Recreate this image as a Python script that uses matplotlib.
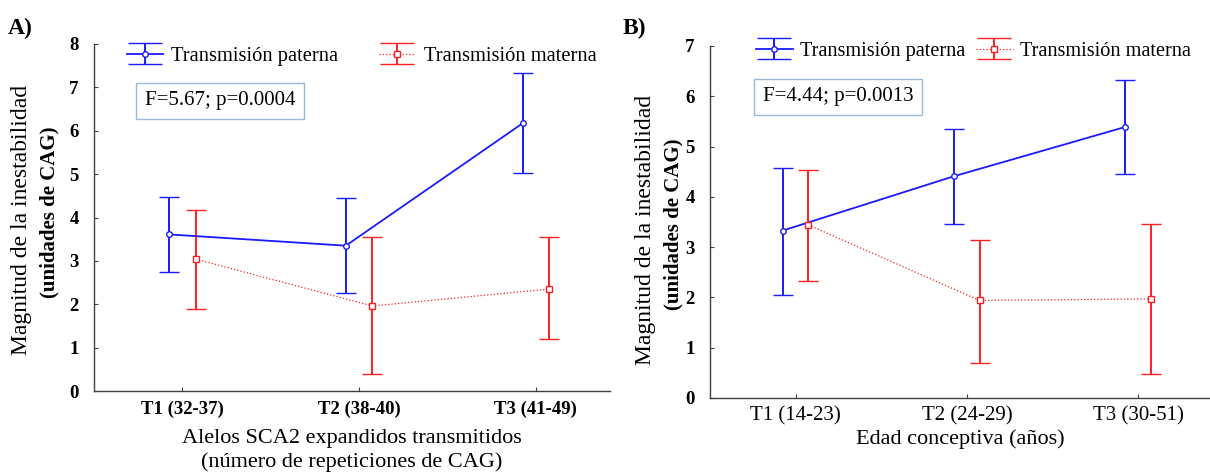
import matplotlib
matplotlib.use("Agg")
import matplotlib.pyplot as plt
from matplotlib.legend_handler import HandlerErrorbar
from matplotlib.lines import Line2D
import numpy as np

plt.rcParams["font.family"] = ["Liberation Serif", "DejaVu Serif"]

# --- datos ---
grupos_a = ["T1 (32-37)", "T2 (38-40)", "T3 (41-49)"]
pat_a = [3.61, 3.35, 6.17]
pat_a_inf = [2.75, 2.25, 5.02]
pat_a_sup = [4.47, 4.44, 7.34]
mat_a = [3.04, 1.96, 2.35]
mat_a_inf = [1.90, 0.39, 1.20]
mat_a_sup = [4.18, 3.56, 3.56]

grupos_b = ["T1 (14-23)", "T2 (24-29)", "T3 (30-51)"]
pat_b = [3.33, 4.41, 5.39]
pat_b_inf = [2.05, 3.46, 4.45]
pat_b_sup = [4.58, 5.35, 6.33]
mat_b = [3.44, 1.94, 1.97]
mat_b_inf = [2.33, 0.69, 0.47]
mat_b_sup = [4.53, 3.14, 3.47]

AZUL = "#1a1aff"
ROJO = "#ff2020"
W, H = 1210, 472


class HandlerCapsAnchos(HandlerErrorbar):
    # topes de la barra tan anchos como el símbolo de la leyenda
    def create_artists(self, legend, orig_handle, xdescent, ydescent,
                       width, height, fontsize, trans):
        arts = super().create_artists(legend, orig_handle, xdescent, ydescent,
                                      width, height, fontsize, trans)
        for a in arts:
            if isinstance(a, Line2D) and a.get_marker() == "_":
                a.set_markersize(width * 0.95)
        return arts


fig = plt.figure(figsize=(W / 100, H / 100), dpi=100)
ax_a = fig.add_axes([94 / W, 81 / H, 516 / W, 347 / H])
ax_b = fig.add_axes([710 / W, 74 / H, 500 / W, 352 / H])


def panel(ax, grupos, pat, pat_inf, pat_sup, mat, mat_inf, mat_sup, ymax):
    x = np.arange(1, len(grupos) + 1)
    pat = np.array(pat)
    mat = np.array(mat)
    err_p = [pat - np.array(pat_inf), np.array(pat_sup) - pat]
    err_m = [mat - np.array(mat_inf), np.array(mat_sup) - mat]
    ax.errorbar(x - 0.075, pat, yerr=err_p, color=AZUL, lw=1.3,
                elinewidth=1.4, capsize=7, capthick=1.4, marker="o",
                ms=4, mfc="white", mec=AZUL, mew=1.0,
                label="Transmisión paterna", zorder=3)
    hm = ax.errorbar(x + 0.075, mat, yerr=err_m, color=ROJO, ls=":", lw=0.9,
                     elinewidth=1.4, capsize=7, capthick=1.4, marker="s",
                     ms=4, mfc="white", mec=ROJO, mew=1.0,
                     label="Transmisión materna", zorder=3)
    for bar in hm[2]:
        bar.set_linestyle("-")
    ax.set_xlim(0.5, 3.42)
    ax.set_ylim(0, ymax)
    ax.set_yticks(range(ymax + 1))
    ax.set_xticks(x)
    ax.set_xticklabels(grupos)
    for s in ["top", "right"]:
        ax.spines[s].set_visible(False)
    for s in ["left", "bottom"]:
        ax.spines[s].set_color("#404040")
        ax.spines[s].set_linewidth(1.0)
    ax.tick_params(direction="in", length=3, width=0.8, color="#404040")


panel(ax_a, grupos_a, pat_a, pat_a_inf, pat_a_sup, mat_a, mat_a_inf, mat_a_sup, 8)
panel(ax_b, grupos_b, pat_b, pat_b_inf, pat_b_sup, mat_b, mat_b_inf, mat_b_sup, 7)

for lab in ax_a.get_yticklabels() + ax_b.get_yticklabels():
    lab.set_fontweight("bold")
    lab.set_fontsize(13.5)
for lab in ax_a.get_xticklabels():
    lab.set_fontweight("bold")
    lab.set_fontsize(13.5)
for lab in ax_b.get_xticklabels():
    lab.set_fontsize(15)
ax_a.tick_params(axis="y", pad=11)
ax_b.tick_params(axis="y", pad=11)
ax_a.tick_params(axis="x", pad=7)
ax_b.tick_params(axis="x", pad=6)

ax_a.set_xlabel("Alelos SCA2 expandidos transmitidos\n(número de repeticiones de CAG)",
                fontsize=16, linespacing=1.3, labelpad=8)
ax_b.set_xlabel("Edad conceptiva (años)", fontsize=16, labelpad=3)

# etiquetas del eje y en dos tamaños
fig.text(22 / W, 1 - 220 / H, "Magnitud de la inestabilidad", rotation=90,
         ha="center", va="center", fontsize=17)
fig.text(49 / W, 1 - 212 / H, "(unidades de CAG)", rotation=90,
         ha="center", va="center", fontsize=15, fontweight="bold")
fig.text(645 / W, 1 - 230 / H, "Magnitud de la inestabilidad", rotation=90,
         ha="center", va="center", fontsize=17)
fig.text(673 / W, 1 - 224 / H, "(unidades de CAG)", rotation=90,
         ha="center", va="center", fontsize=15, fontweight="bold")

fig.text(8 / W, 1 - 28 / H, "A)", fontsize=17, fontweight="bold", va="center")
fig.text(623 / W, 1 - 28 / H, "B)", fontsize=17, fontweight="bold", va="center")

# leyendas
hmap = {matplotlib.container.ErrorbarContainer: HandlerCapsAnchos()}
ax_a.legend(loc="center left", bbox_to_anchor=(127 / W, 1 - 56 / H),
            bbox_transform=fig.transFigure, ncol=2, frameon=False,
            fontsize=14.8, handlelength=1.75, handletextpad=0.4,
            columnspacing=2.0, borderpad=0, borderaxespad=0, handler_map=hmap)
ax_b.legend(loc="center left", bbox_to_anchor=(756 / W, 1 - 51 / H),
            bbox_transform=fig.transFigure, ncol=2, frameon=False,
            fontsize=14.6, handlelength=1.8, handletextpad=0.35,
            columnspacing=0.55, borderpad=0, borderaxespad=0, handler_map=hmap)

# cuadros con el estadístico
caja = dict(boxstyle="square,pad=0.4", fc="white", ec="#9ab8d8", lw=1.0)
fig.text(220 / W, 1 - 101 / H, "F=5.67; p=0.0004", ha="center", va="center",
         fontsize=15, bbox=caja)
fig.text(838 / W, 1 - 97 / H, "F=4.44; p=0.0013", ha="center", va="center",
         fontsize=15, bbox=caja)

fig.savefig("out.png", dpi=100)
